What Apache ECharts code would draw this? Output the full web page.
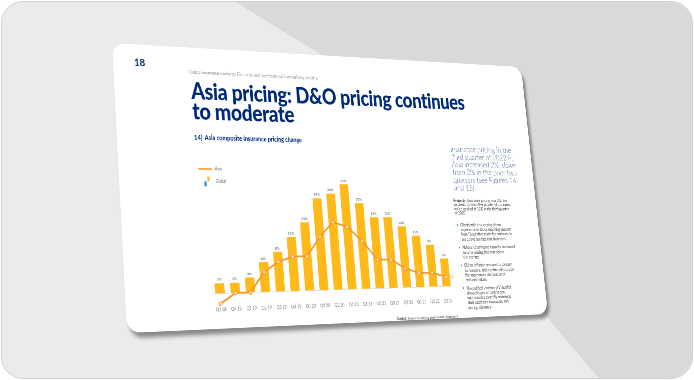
<!DOCTYPE html>
<html><head><meta charset="utf-8">
<script src="https://cdn.jsdelivr.net/npm/echarts@6/dist/echarts.min.js"></script>
<style>
html,body{margin:0;padding:0;background:#fff;width:694px;height:380px;overflow:hidden;font-family:Lato,"Open Sans",sans-serif;}
#frame{position:absolute;left:1px;top:1px;width:690px;height:376px;border:1px solid #d2d2d2;border-radius:22px;background:#ebebeb;overflow:hidden;}
#shade{position:absolute;left:-2px;top:-2px;width:694px;height:380px;background:#d9d9d9;clip-path:polygon(232px 0,694px 0,694px 380px,600px 380px,330px 60px);}
#slide{position:absolute;left:0;top:0;width:850px;height:450px;background:#fff;border-radius:22px;transform-origin:0 0;box-shadow:5px 8px 6px rgba(0,0,0,.42);overflow:hidden;}
.a{position:absolute;}
.t{white-space:nowrap;}
#pg{font-weight:700;color:#002c77;font-size:17px;line-height:17px;}
#hdr{font-size:8px;line-height:8px;color:#8a8a8a;}
#title{font-weight:900;color:#002c77;font-size:37px;line-height:33px;letter-spacing:-0.6px;}
#cap{font-weight:700;color:#002c77;font-size:10.5px;line-height:11px;}
#intro{font-weight:300;color:#4f6598;font-size:14px;line-height:13.8px;white-space:nowrap;}
#prop{font-size:7px;line-height:7.5px;color:#333;white-space:nowrap;}
#bul{font-size:7px;line-height:8.2px;color:#444;white-space:nowrap;}
#bul .b{position:relative;padding-left:8px;margin-bottom:6.5px;}
#bul .b:before{content:"";position:absolute;left:0;top:2.5px;width:3px;height:3px;border-radius:50%;background:#00a0c6;}
#src{font-size:6.5px;line-height:7px;color:#444;text-align:right;width:220px;}
</style></head>
<body>
<div id="frame"><div id="shade"></div></div>
<div id="slide">
 <div id="pg" class="a t">18</div>
 <div id="hdr" class="a t">Global insurance markets: Financial and professional lines pricing decline</div>
 <div id="title" class="a t">Asia pricing: D&amp;O pricing continues<br>to moderate</div>
 <div id="cap" class="a t">14|&nbsp; Asia composite insurance pricing change</div>
 <div id="chart" class="a"></div>
 <div id="src" class="a t"><b>Source:</b> Marsh Specialty and Global Placement</div>
 <div id="intro" class="a">Insurance pricing in the<br>third quarter of 2022 in<br>Asia increased 2%, down<br>from 3% in the prior two<br>quarters (see Figures 14<br>and 15).</div>
 <div id="prop" class="a"><b>Property:</b> Insurance pricing rose 2%, the<br>sixteenth consecutive quarter of increases,<br>which peaked at 18% in the third quarter<br>of 2020.</div>
 <div id="bul" class="a">
  <div class="b">Clients with challenging claims<br>experience or those requiring support<br>from Facultative markets continued to<br>see above average rate increases.</div>
  <div class="b">Natural catastrophe capacity continued<br>to drive pricing that was above<br>the average.</div>
  <div class="b">Claims inflation remained a concern<br>for insurers, with continued focus on<br>the appropriate declaration of<br>declared values.</div>
  <div class="b">The political violence (PV) market<br>showed signs of contraction,<br>with insurers carefully reviewing<br>their aggregate exposures and<br>pricing adequacy.</div>
 </div>
</div>
<script>
// ---- data ----
const categories=['Q3 18','Q4 18','Q1 19','Q2 19','Q3 19','Q4 19','Q1 20','Q2 20','Q3 20','Q4 20','Q1 21','Q2 21','Q3 21','Q4 21','Q1 22','Q2 22','Q3 22'];
const globalValues=[2,2,3,6,8,11,14,19,20,22,18,15,15,13,11,9,6];
const asiaValues=[-2,0,0,4,6,7,7,11,14,13,10,6,6,4,3,3,2];
const seriesNames=['Asia','Global'];

// ---- perspective of the slide ----
const W=850,H=450;
const Q=[[112,43],[521,67],[548,314],[127,333]];
function sq2q(q){
 const [x0,y0]=q[0],[x1,y1]=q[1],[x2,y2]=q[2],[x3,y3]=q[3];
 const dx1=x1-x2,dx2=x3-x2,dx3=x0-x1+x2-x3,dy1=y1-y2,dy2=y3-y2,dy3=y0-y1+y2-y3;
 const det=dx1*dy2-dx2*dy1;
 const g=(dx3*dy2-dx2*dy3)/det,h=(dx1*dy3-dx3*dy1)/det;
 return {a:x1-x0+g*x1,b:x3-x0+h*x3,c:x0,d:y1-y0+g*y1,e:y3-y0+h*y3,f:y0,g:g,h:h};
}
const m=sq2q(Q);
const A=m.a/W,B=m.b/H,C=m.c,D=m.d/W,E=m.e/H,F=m.f,G=m.g/W,HH=m.h/H;
const slide=document.getElementById('slide');
slide.style.transform='matrix3d('+[A,D,0,G,B,E,0,HH,0,0,1,0,C,F,0,1].join(',')+')';
function toSlide(X,Y){
 const a11=A-G*X,a12=B-HH*X,b1=X-C,a21=D-G*Y,a22=E-HH*Y,b2=Y-F;
 const dt=a11*a22-a12*a21;
 return {x:(b1*a22-a12*b2)/dt,y:(a11*b2-b1*a21)/dt};
}
function place(id,X,Y,off){const p=toSlide(X,Y);const el=document.getElementById(id);el.style.left=p.x+'px';el.style.top=(p.y-off)+'px';return p;}
place('pg',134,58.3,2.8);
place('hdr',188.3,70,1.3);
place('title',190.5,82.7,4.2);
place('cap',194,135.5,2.3);
place('intro',450,146,2.2);
place('prop',453.3,199.3,1.5);
place('bul',456.5,223.5,1.7);
(function(){const p=toSlide(458,314.5);const el=document.getElementById('src');el.style.left=(p.x-220)+'px';el.style.top=(p.y-1.3)+'px';})();

// ---- chart box ----
const pL=toSlide(186,240),pT=toSlide(300,150),pR=toSlide(470,240),pB=toSlide(300,318);
const divL=pL.x,divT=pT.y,divW=pR.x-divL,divH=pB.y-divT;
const cdiv=document.getElementById('chart');
cdiv.style.left=divL+'px';cdiv.style.top=divT+'px';cdiv.style.width=divW+'px';cdiv.style.height=divH+'px';
const b1=toSlide(220,292.3),b17=toSlide(446.7,286.3);
const cw=(b17.x-b1.x)/16;
const z=toSlide(350,289.3),t22=toSlide(350,184.3);
const ppu=(z.y-t22.y)/22;
const lg=toSlide(195,160.7);

const svgUri=s=>'image://data:image/svg+xml;charset=utf-8,'+encodeURIComponent(s);
const lineIcon=svgUri("<svg xmlns='http://www.w3.org/2000/svg' width='26' height='16'><rect x='0' y='6.8' width='26' height='2.6' fill='#F39A2E'/></svg>");
const barIcon=svgUri("<svg xmlns='http://www.w3.org/2000/svg' width='26' height='16'><rect x='10' y='8' width='4' height='8' fill='#1E8FD6'/><rect x='16' y='0' width='4' height='8' fill='#FFBA1A'/></svg>");

const chart=echarts.init(cdiv,null,{renderer:'svg',width:divW,height:divH});
chart.setOption({
 animation:false,
 textStyle:{fontFamily:'Lato, sans-serif'},
 legend:{orient:'vertical',left:lg.x-divL,top:lg.y-divT,itemWidth:26,itemHeight:16,itemGap:4,
  textStyle:{fontSize:7,color:'#666'},
  data:[{name:seriesNames[0],icon:lineIcon},{name:seriesNames[1],icon:barIcon}]},
 grid:{left:b1.x-cw/2-divL,width:17*cw,top:z.y-24*ppu-divT,height:26.5*ppu,containLabel:false},
 xAxis:{type:'category',data:categories,axisLine:{show:false},axisTick:{show:false},
  axisLabel:{fontSize:7,color:'#777',margin:2}},
 yAxis:{type:'value',min:-2.5,max:24,show:false,splitLine:{show:false}},
 series:[
  {name:seriesNames[1],type:'bar',data:globalValues,barCategoryGap:'38%',
   itemStyle:{color:'#FFBA1A'},
   label:{show:true,position:'top',distance:3,fontSize:6.5,color:'#555',formatter:'{c}%'},
   markLine:{silent:true,symbol:'none',label:{show:false},lineStyle:{color:'#dcdcdc',width:1,type:'solid'},data:[{yAxis:0}]}},
  {name:seriesNames[0],type:'line',z:5,
   data:asiaValues.map((v,i)=>i===asiaValues.length-1?{value:v,label:{show:true}}:v),
   lineStyle:{color:'#F39A2E',width:3},
   symbol:'circle',symbolSize:6,
   itemStyle:{color:'#FDE0B8',borderColor:'#F39A2E',borderWidth:1.3},
   label:{show:false,position:'right',distance:4,fontSize:7,color:'#F39A2E',formatter:'{c}%'}}
 ]
});
</script>
</body></html>
